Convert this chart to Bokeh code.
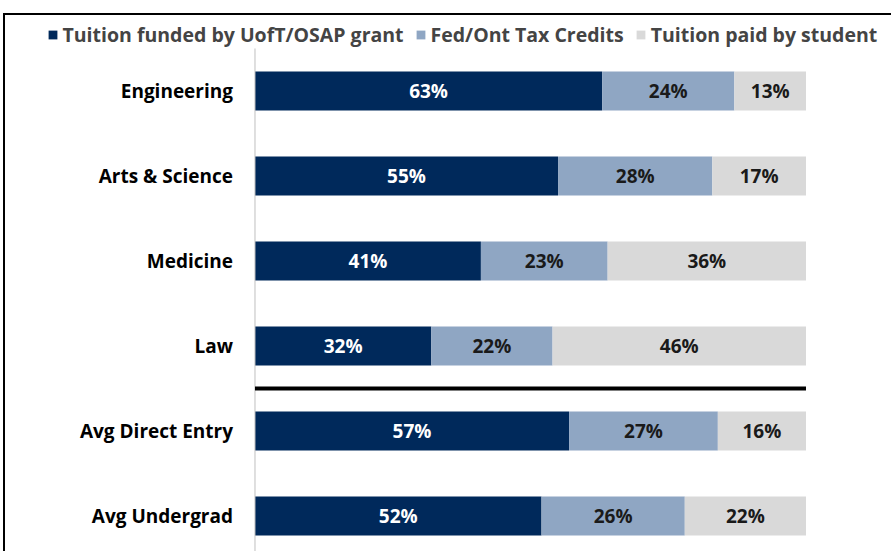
from bokeh.plotting import figure
from bokeh.models import (ColumnDataSource, Range1d, Legend, LegendItem)
from bokeh.embed import file_html
from bokeh.resources import INLINE
from bokeh.core.properties import value

# ---- data ----
categories = ["Engineering", "Arts & Science", "Medicine", "Law",
              "Avg Direct Entry", "Avg Undergrad"]
funded = [63, 55, 41, 32, 57, 52]
credits = [24, 28, 23, 22, 27, 26]
paid = [13, 17, 36, 46, 16, 22]
series_names = ["Tuition funded by UofT/OSAP grant", "Fed/Ont Tax Credits",
                "Tuition paid by student"]
colors = ["#00295B", "#8FA6C3", "#D9D9D9"]
label_colors = ["white", "#1A1A1A", "#1A1A1A"]
separator_after = 3  # line drawn between "Law" and "Avg Direct Entry"

FONT = "Open Sans"
FS = "19px"

pos = list(range(len(categories)))
src = ColumnDataSource(dict(y=pos, funded=funded, credits=credits, paid=paid))

W, H = 888, 538
p = figure(width=W, height=H, output_backend="svg", toolbar_location=None,
           x_range=Range1d(-45.28, 115.88), y_range=Range1d(5.441, -0.888),
           min_border_left=0, min_border_right=0, min_border_top=0,
           min_border_bottom=0)
p.styles = {"margin-left": "3px", "margin-top": "13px",
            "border-left": "2.5px solid black", "border-top": "2.5px solid black"}
p.outline_line_color = None
p.xgrid.visible = False
p.ygrid.visible = False
p.xaxis.visible = False
p.yaxis.visible = False

keys = ["funded", "credits", "paid"]
rs = p.hbar_stack(keys, y="y", height=0.46, color=colors, source=src, line_color=None)

# vertical category axis line
p.segment(x0=[0], x1=[0], y0=[-0.5], y1=[len(categories)], line_color="#BFBFBF",
          line_width=1)

# category labels
p.text(x=[0] * len(categories), y=pos, text=categories, x_offset=-22,
       text_align="right", text_baseline="middle", text_color="black",
       text_font=value(FONT), text_font_style="bold", text_font_size=FS)

# segment labels
cols = [funded, credits, paid]
for k in range(3):
    xs, ys, ts = [], [], []
    for i in pos:
        left = sum(cols[j][i] for j in range(k))
        xs.append(left + cols[k][i] / 2)
        ys.append(i)
        ts.append(f"{cols[k][i]}%")
    p.text(x=xs, y=ys, text=ts, text_align="center", text_baseline="middle",
           text_color=label_colors[k], text_font=value(FONT), text_font_style="bold",
           text_font_size=FS)

# separator
p.segment(x0=[0], x1=[100], y0=[separator_after + 0.5], y1=[separator_after + 0.5],
          line_color="black", line_width=4)

legend = Legend(items=[LegendItem(label=series_names[i], renderers=[rs[i]]) for i in range(3)],
                orientation="horizontal", location=(41.5, 505),
                label_text_font=FONT, label_text_font_style="bold",
                label_text_font_size="19.5px", glyph_width=11, glyph_height=11,
                label_standoff=5, spacing=11, padding=0, margin=0,
                background_fill_alpha=0, border_line_color=None)
p.add_layout(legend, "center")

open("out.html", "w").write(file_html(p, INLINE))
